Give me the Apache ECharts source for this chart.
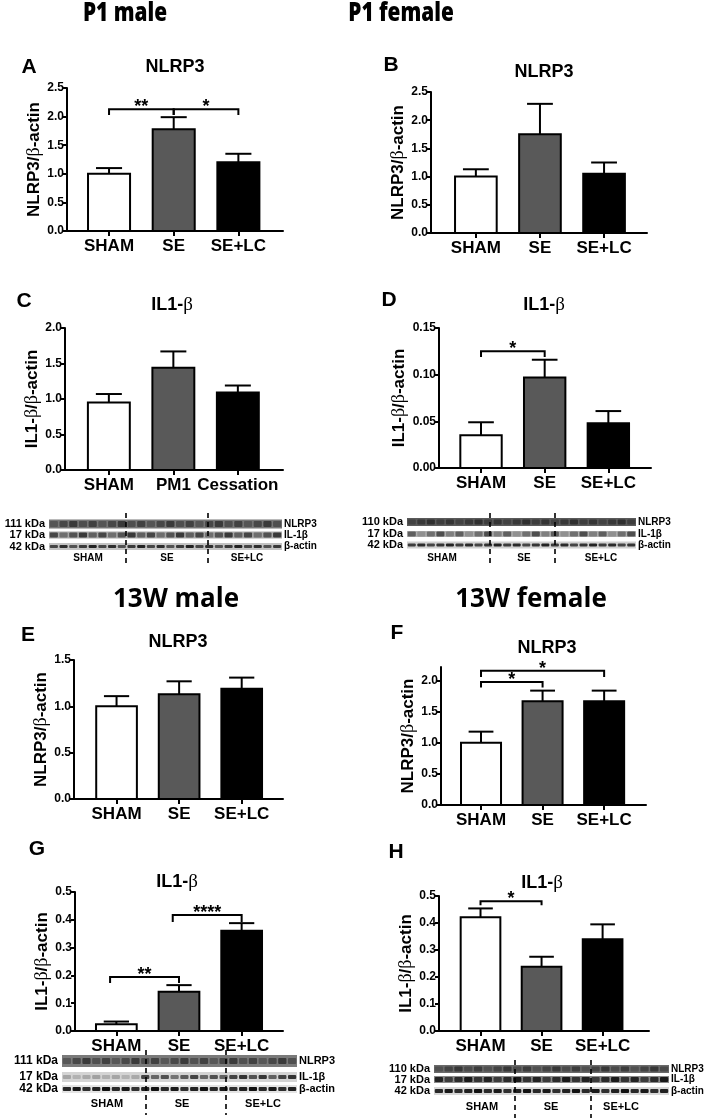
<!DOCTYPE html>
<html><head><meta charset="utf-8">
<script src="https://cdn.jsdelivr.net/npm/echarts@6/dist/echarts.min.js"></script>
<style>html,body{margin:0;padding:0;background:#fff}#c{width:709px;height:1119px}</style>
</head><body><div id="c"></div>
<script>
// ---------- DATA ----------
const catsMain = ['SHAM', 'SE', 'SE+LC'];
const catsC = ['SHAM', 'PM1', 'Cessation'];
// A: P1 male NLRP3 (mean, upper end of SEM bar)
const p1MaleNlrp3 = [1.00, 1.78, 1.20];
const p1MaleNlrp3Err = [1.10, 1.99, 1.35];
// B: P1 female NLRP3
const p1FemaleNlrp3 = [1.00, 1.75, 1.05];
const p1FemaleNlrp3Err = [1.13, 2.29, 1.25];
// C: P1 male IL1-beta
const p1MaleIl1b = [0.95, 1.44, 1.09];
const p1MaleIl1bErr = [1.07, 1.67, 1.19];
// D: P1 female IL1-beta
const p1FemaleIl1b = [0.035, 0.097, 0.048];
const p1FemaleIl1bErr = [0.049, 0.116, 0.061];
// E: 13W male NLRP3
const w13MaleNlrp3 = [1.00, 1.13, 1.19];
const w13MaleNlrp3Err = [1.11, 1.27, 1.31];
// F: 13W female NLRP3
const w13FemaleNlrp3 = [1.00, 1.67, 1.67];
const w13FemaleNlrp3Err = [1.18, 1.84, 1.84];
// G: 13W male IL1-beta
const w13MaleIl1b = [0.024, 0.141, 0.361];
const w13MaleIl1bErr = [0.034, 0.165, 0.388];
// H: 13W female IL1-beta
const w13FemaleIl1b = [0.421, 0.238, 0.340];
const w13FemaleIl1bErr = [0.454, 0.275, 0.395];
// significance brackets: [fromCat, toCat, yLine, yTickEnd, label]
const bracketsA = [[0, 1, 2.13, 2.03, '**'], [1, 2, 2.13, 2.03, '*']];
const bracketsB = [];
const bracketsC = [];
const bracketsD = [[0, 1, 0.125, 0.119, '*']];
const bracketsE = [];
const bracketsF = [[0, 1, 1.98, 1.89, '*'], [0, 2, 2.16, 2.06, '*']];
const bracketsG = [[-0.1, 1, 0.194, 0.173, '**'], [0.9, 2, 0.417, 0.392, '****']];
const bracketsH = [[0, 1, 0.481, 0.466, '*']];
// y tick labels
const ticks1 = [0, 0.5, 1.0, 1.5, 2.0, 2.5];
const ticksC = [0, 0.5, 1.0, 1.5, 2.0];
const ticksD = [0, 0.05, 0.10, 0.15];
const ticksE = [0, 0.5, 1.0, 1.5];
const ticksF = [0, 0.5, 1.0, 1.5, 2.0];
const ticksGH = [0, 0.1, 0.2, 0.3, 0.4, 0.5];

// ---------- STYLE / LAYOUT ----------
const FONT = '"Liberation Sans", Arial, sans-serif';
const HFONT = '"Open Sans", "Liberation Sans", sans-serif';
const fills = ['#ffffff', '#595959', '#000000'];
const BAR_W = 0.65;

const panels = [
  {cats: catsMain, mean: p1MaleNlrp3, err: p1MaleNlrp3Err, br: bracketsA, ticks: ticks1, dec: 1,
   grid: {left: 67, top: 88, width: 216, height: 143}, x: [-0.65, 2.69], yMax: 2.5,
   yName: 'NLRP3/{b|β}-actin', gap: 21},
  {cats: catsMain, mean: p1FemaleNlrp3, err: p1FemaleNlrp3Err, br: bracketsB, ticks: ticks1, dec: 1,
   grid: {left: 431, top: 92, width: 216, height: 141}, x: [-0.70, 2.67], yMax: 2.5,
   yName: 'NLRP3/{b|β}-actin', gap: 18},
  {cats: catsC, mean: p1MaleIl1b, err: p1MaleIl1bErr, br: bracketsC, ticks: ticksC, dec: 1,
   grid: {left: 65, top: 328, width: 218, height: 142}, x: [-0.68, 2.70], yMax: 2.0,
   yName: 'IL1-{b|β}/{b|β}-actin', gap: 19},
  {cats: catsMain, mean: p1FemaleIl1b, err: p1FemaleIl1bErr, br: bracketsD, ticks: ticksD, dec: 2,
   grid: {left: 439, top: 328, width: 212, height: 140}, x: [-0.66, 2.67], yMax: 0.15,
   yName: 'IL1-{b|β}/{b|β}-actin', gap: 28},
  {cats: catsMain, mean: w13MaleNlrp3, err: w13MaleNlrp3Err, br: bracketsE, ticks: ticksE, dec: 1,
   grid: {left: 74, top: 660, width: 209, height: 139}, x: [-0.68, 2.66], yMax: 1.5,
   yName: 'NLRP3/{b|β}-actin', gap: 19},
  {cats: catsMain, mean: w13FemaleNlrp3, err: w13FemaleNlrp3Err, br: bracketsF, ticks: ticksF, dec: 1,
   grid: {left: 441, top: 667, width: 205, height: 138}, x: [-0.65, 2.68], yMax: 2.22,
   yName: 'NLRP3/{b|β}-actin', gap: 21},
  {cats: catsMain, mean: w13MaleIl1b, err: w13MaleIl1bErr, br: bracketsG, ticks: ticksGH, dec: 1,
   grid: {left: 75, top: 892, width: 208, height: 139}, x: [-0.66, 2.66], yMax: 0.5,
   yName: 'IL1-{b|β}/{b|β}-actin', gap: 20},
  {cats: catsMain, mean: w13FemaleIl1b, err: w13FemaleIl1bErr, br: bracketsH, ticks: ticksGH, dec: 1,
   grid: {left: 439, top: 896, width: 210, height: 135}, x: [-0.68, 2.76], yMax: 0.5,
   yName: 'IL1-{b|β}/{b|β}-actin', gap: 20}
];

const grids = [], xAxes = [], yAxes = [], series = [];
panels.forEach((p, i) => {
  grids.push(Object.assign({containLabel: false}, p.grid));
  xAxes.push({
    type: 'value', gridIndex: i, min: p.x[0], max: p.x[1],
    axisLine: {onZero: false, lineStyle: {color: '#000', width: 2}},
    axisTick: {show: true, customValues: [0, 1, 2], length: 5, lineStyle: {color: '#000', width: 2}},
    axisLabel: {customValues: [0, 1, 2], formatter: v => p.cats[Math.round(v)], color: '#000',
      fontFamily: FONT, fontWeight: 'bold', fontSize: 17, margin: 7},
    splitLine: {show: false}
  });
  yAxes.push({
    type: 'value', gridIndex: i, min: 0, max: p.yMax,
    axisLine: {show: true, onZero: false, lineStyle: {color: '#000', width: 2}},
    axisTick: {show: true, customValues: p.ticks, length: 4, lineStyle: {color: '#000', width: 2}},
    axisLabel: {customValues: p.ticks, formatter: v => v.toFixed(p.dec), color: '#000',
      fontFamily: FONT, fontWeight: 'bold', fontSize: 12, margin: 3},
    splitLine: {show: false},
    name: p.yName, nameLocation: 'middle', nameRotate: 90, nameGap: p.gap,
    nameTextStyle: {color: '#000', fontFamily: FONT, fontWeight: 'bold', fontSize: 17,
      rich: {b: {fontFamily: '"Liberation Serif", serif', fontWeight: 'normal', fontSize: 18, color: '#000'}}}
  });
  // bars
  series.push({
    type: 'custom', xAxisIndex: i, yAxisIndex: i, z: 3,
    data: p.mean.map((v, k) => [k, v]),
    renderItem: (params, api) => {
      const x = api.value(0), y = api.value(1);
      const p0 = api.coord([x, 0]), p1 = api.coord([x, y]);
      const w = api.size([BAR_W, 0])[0];
      return {type: 'rect', shape: {x: p0[0] - w / 2, y: p1[1], width: w, height: p0[1] - p1[1]},
        style: {fill: fills[params.dataIndex], stroke: '#000', lineWidth: 2}};
    }
  });
  // error bars (upper SEM)
  series.push({
    type: 'custom', xAxisIndex: i, yAxisIndex: i, z: 4,
    data: p.mean.map((v, k) => [k, v, p.err[k]]),
    renderItem: (params, api) => {
      const x = api.value(0);
      const a = api.coord([x, api.value(1)]), b = api.coord([x, api.value(2)]);
      const cw = api.size([BAR_W, 0])[0] * 0.62;
      return {type: 'group', children: [
        {type: 'line', shape: {x1: a[0], y1: a[1], x2: b[0], y2: b[1]}, style: {stroke: '#000', lineWidth: 2}},
        {type: 'line', shape: {x1: b[0] - cw / 2, y1: b[1], x2: b[0] + cw / 2, y2: b[1]}, style: {stroke: '#000', lineWidth: 2}}
      ]};
    }
  });
  // significance brackets
  if (p.br.length) series.push({
    type: 'custom', xAxisIndex: i, yAxisIndex: i, z: 5,
    data: p.br.map(b => [b[0], b[1], b[2], b[3]]),
    renderItem: (params, api) => {
      const l = api.coord([api.value(0), api.value(2)]);
      const r = api.coord([api.value(1), api.value(2)]);
      const e = api.coord([api.value(0), api.value(3)]);
      const st = {stroke: '#000', lineWidth: 2, fill: 'none'};
      return {type: 'group', children: [
        {type: 'polyline', shape: {points: [[l[0], e[1]], [l[0], l[1]], [r[0], r[1]], [r[0], e[1]]]}, style: st},
        {type: 'text', style: {text: p.br[params.dataIndex][4], x: (l[0] + r[0]) / 2, y: l[1] + 7,
          align: 'center', verticalAlign: 'bottom', font: 'bold 18px ' + FONT, fill: '#000'}}
      ]};
    }
  });
});

// ---------- TEXT GRAPHICS ----------
const graphic = [];
function txt(t, x, y, size, opts) {
  opts = opts || {};
  graphic.push({type: 'text', x: x, y: y, scaleX: opts.sx || 1, silent: true,
    style: {text: t, x: 0, y: 0, align: opts.align || 'center', verticalAlign: 'middle',
      font: (opts.weight || 'bold') + ' ' + size + 'px ' + (opts.family || FONT), fill: '#000',
      rich: opts.rich}});
}
const betaRich = {n: {font: 'bold 18px ' + FONT, fill: '#000'}, b: {font: 'normal 19px "Liberation Serif", serif', fill: '#000'}};
// section headings
txt('P1 male', 125, 14, 26, {family: HFONT, sx: 0.8, weight: '800'});
txt('P1 female', 401, 14, 26, {family: HFONT, sx: 0.8, weight: '800'});
txt('13W male', 176, 600, 26, {family: HFONT});
txt('13W female', 531, 600, 26, {family: HFONT});
// panel letters
[['A', 29, 67], ['B', 391, 65], ['C', 24, 301], ['D', 389, 300],
 ['E', 28, 635], ['F', 397, 633], ['G', 37, 849], ['H', 396, 852]].forEach(l => txt(l[0], l[1], l[2], 21));
// panel titles
txt('NLRP3', 175, 67, 18);
txt('NLRP3', 544, 72, 18);
txt('NLRP3', 178, 642, 18);
txt('NLRP3', 547, 648, 18);
[[172, 305], [544, 305], [177, 882], [542, 883]].forEach(c =>
  txt('{n|IL1-}{b|β}', c[0], c[1], 18, {rich: betaRich}));

// ---------- WESTERN BLOT STRIPS (decorative images) ----------
function blot(o) {
  const n = 24, lw = (o.x1 - o.x0) / n;
  o.rows.forEach((r, ri) => {
    graphic.push({type: 'rect', silent: true, shape: {x: o.x0, y: r.y - r.h / 2, width: o.x1 - o.x0, height: r.h}, style: {fill: r.bg}});
    for (let i = 0; i < n; i++) {
      const k = ((i * 7 + ri * 3) % 5) / 4;
      const g = r.grp ? r.grp[Math.floor(i / 8)] : 1;
      graphic.push({type: 'rect', silent: true,
        shape: {x: o.x0 + i * lw + lw * 0.08, y: r.y - r.bh / 2, width: lw * 0.84, height: r.bh, r: 1},
        style: {fill: r.band, opacity: Math.min(1, (r.a0 + (r.a1 - r.a0) * k) * g)}});
    }
    txt(o.kda[ri], o.x0 - 4, r.y, o.fs, {align: 'right'});
    txt(['NLRP3', 'IL-1β', 'β-actin'][ri], o.x1 + 2, r.y, o.nfs, {align: 'left'});
  });
  o.div.forEach(x => graphic.push({type: 'line', silent: true,
    shape: {x1: x, y1: o.dy[0], x2: x, y2: o.dy[1]}, style: {stroke: '#000', lineWidth: 1.6, lineDash: [5, 4]}}));
  o.groups.forEach((g, gi) => txt(catsMain[gi], g, o.gy, o.gfs));
}
blot({x0: 49, x1: 282, kda: ['111 kDa', '17 kDa', '42 kDa'], fs: 11, nfs: 10, gfs: 10,
  rows: [{y: 524, h: 9, bh: 6, bg: '#777', band: '#333', a0: 0.5, a1: 0.9},
         {y: 535, h: 7, bh: 5, bg: '#a8a8a8', band: '#333', a0: 0.5, a1: 0.95},
         {y: 546.5, h: 7, bh: 3, bg: '#c4c4c4', band: '#222', a0: 0.7, a1: 1}],
  div: [126, 208], dy: [513, 563], groups: [88, 167, 247], gy: 558});
blot({x0: 407, x1: 636, kda: ['110 kDa', '17 kDa', '42 kDa'], fs: 11, nfs: 10, gfs: 10,
  rows: [{y: 522, h: 8, bh: 5, bg: '#5a5a5a', band: '#2a2a2a', a0: 0.5, a1: 0.9},
         {y: 534, h: 6, bh: 5, bg: '#b0b0b0', band: '#444', a0: 0.3, a1: 0.9},
         {y: 545, h: 7, bh: 3, bg: '#d0d0d0', band: '#222', a0: 0.8, a1: 1}],
  div: [490, 555], dy: [513, 563], groups: [442, 524, 601], gy: 558});
blot({x0: 62, x1: 297, kda: ['111 kDa', '17 kDa', '42 kDa'], fs: 12, nfs: 11, gfs: 11,
  rows: [{y: 1061, h: 12, bh: 6, bg: '#7a7a7a', band: '#333', a0: 0.5, a1: 0.9},
         {y: 1077, h: 10, bh: 4, bg: '#d4d4d4', band: '#333', a0: 0.6, a1: 0.9, grp: [0.35, 1, 1.2]},
         {y: 1089, h: 8, bh: 4, bg: '#e4e4e4', band: '#111', a0: 0.85, a1: 1}],
  div: [146, 226], dy: [1050, 1115], groups: [107, 182, 263], gy: 1104});
blot({x0: 434, x1: 669, kda: ['110 kDa', '17 kDa', '42 kDa'], fs: 11, nfs: 10, gfs: 11,
  rows: [{y: 1069, h: 8, bh: 5, bg: '#6a6a6a', band: '#2a2a2a', a0: 0.4, a1: 0.8},
         {y: 1079.5, h: 7, bh: 5, bg: '#8a8a8a', band: '#1a1a1a', a0: 0.7, a1: 1},
         {y: 1091, h: 8, bh: 4, bg: '#d8d8d8', band: '#111', a0: 0.85, a1: 1}],
  div: [515, 591], dy: [1060, 1118], groups: [482, 551, 621], gy: 1107});

const chart = echarts.init(document.getElementById('c'), null, {renderer: 'canvas'});
chart.setOption({
  backgroundColor: '#fff', animation: false,
  grid: grids, xAxis: xAxes, yAxis: yAxes, series: series, graphic: graphic
});
</script></body></html>
